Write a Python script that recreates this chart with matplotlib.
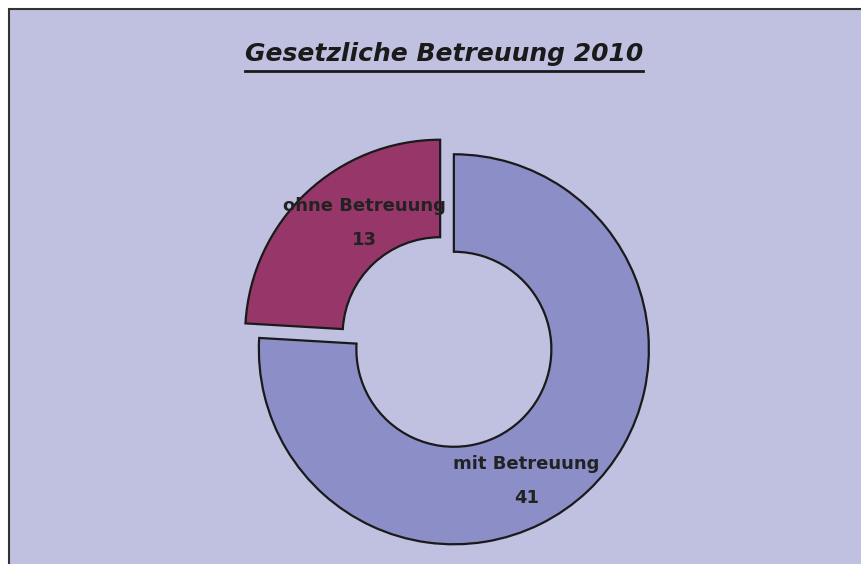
import matplotlib.pyplot as plt
import numpy as np
from matplotlib.patches import Rectangle

# data
categories = ['mit Betreuung', 'ohne Betreuung']
values = [41, 13]
colors = ['#8c8fc7', '#973769']
title = 'Gesetzliche Betreuung 2010'

W, H = 861, 564
fig = plt.figure(figsize=(W / 100, H / 100), dpi=100)
fig.patch.set_facecolor('white')
ax = fig.add_axes([0, 0, 1, 1])

# chart area background with border on top and left
ax.add_patch(Rectangle((9, -10), W + 10, H - 9 + 10, facecolor='#c0c0e0',
                       edgecolor='#333333', lw=1.5, zorder=0))

radius = 195
# explode is in data units (pixels here)
wedges, _ = ax.pie(values, colors=colors, startangle=90, counterclock=False,
                   center=(447, H - 342), radius=radius, explode=(10, 10),
                   wedgeprops=dict(width=radius * 0.5, edgecolor='#1a1a1a', lw=1.6),
                   frame=True)
ax.set_xlim(0, W)
ax.set_ylim(0, H)
ax.set_aspect('equal')
ax.axis('off')

# label placement (angle in degrees, distance as fraction of radius)
label_pos = [(-61, 0.77), (124, 0.69)]
for w, cat, v, (ang, dist) in zip(wedges, categories, values, label_pos):
    cx, cy = w.center
    x = cx + dist * radius * np.cos(np.radians(ang))
    y = cy + dist * radius * np.sin(np.radians(ang))
    ax.text(x, y + 17, cat, ha='center', va='center', fontsize=13,
            fontweight='bold', color='#222222')
    ax.text(x, y - 17, str(v), ha='center', va='center', fontsize=13,
            fontweight='bold', color='#222222')

t = ax.text(444, H - 54, title, ha='center', va='center', fontsize=18,
            fontweight='bold', fontstyle='italic', color='#1a1a1a')
fig.canvas.draw()
bb = t.get_window_extent()
ax.plot([bb.x0, bb.x1], [H - 71, H - 71], color='#1a1a1a', lw=2)

fig.savefig('out.png', dpi=100, facecolor=fig.get_facecolor())
